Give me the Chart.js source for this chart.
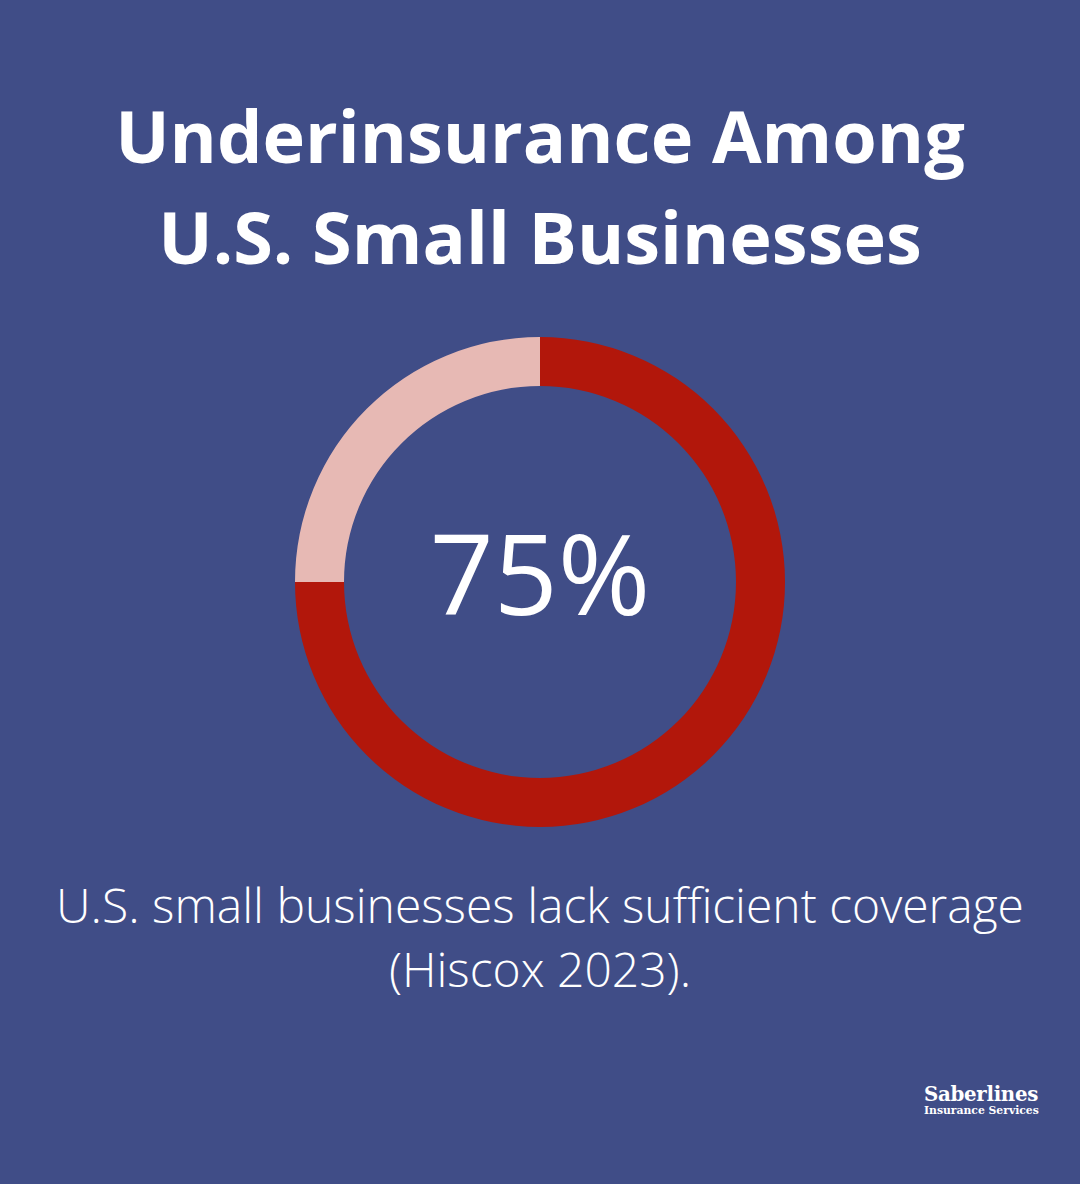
<!DOCTYPE html>
<html><head><meta charset="utf-8">
<script src="https://cdn.jsdelivr.net/npm/chart.js@4.4.1/dist/chart.umd.min.js"></script>
<style>
html,body{margin:0;padding:0;background:#404D87;width:1080px;height:1184px;overflow:hidden;font-family:"Open Sans",sans-serif;color:#fff}
#title{position:absolute;left:0;top:85px;width:1080px;text-align:center;font-weight:700;font-size:72px;line-height:101px;}
#wrap{position:absolute;left:295px;top:337px;width:490px;height:490px}
#center{position:absolute;left:0;top:507px;width:1080px;text-align:center;font-size:112px;font-weight:400;line-height:130px}
#sub{position:absolute;left:0;top:873px;width:1080px;text-align:center;font-size:48px;font-weight:300;line-height:64px}
#logo{position:absolute;left:924px;top:1083px;font-family:"DejaVu Serif","Liberation Serif",serif;font-weight:700;color:#fff}
#logo .a{font-size:19.8px;line-height:22px;letter-spacing:-0.3px}
#logo .b{font-size:10.8px;line-height:12px}
</style></head>
<body>
<div id="title">Underinsurance Among<br>U.S. Small Businesses</div>
<div id="wrap"><canvas id="c" width="490" height="490"></canvas></div>
<div id="center">75%</div>
<div id="sub">U.S. small businesses lack sufficient coverage<br>(Hiscox 2023).</div>
<div id="logo"><div class="a">Saberlines</div><div class="b">Insurance Services</div></div>
<script>
const categories = ["Lack sufficient coverage", "Sufficient coverage"];
const values = [75, 25];
const colors = ["#B2170B", "#E7B9B4"];
new Chart(document.getElementById('c'), {
  type: 'doughnut',
  data: { labels: categories, datasets: [{ data: values, backgroundColor: colors, borderWidth: 0 }] },
  options: {
    responsive: false, animation: false, cutout: '80%',
    layout: { padding: 0 },
    plugins: { legend: { display: false }, tooltip: { enabled: false } }
  }
});
</script>
</body></html>
